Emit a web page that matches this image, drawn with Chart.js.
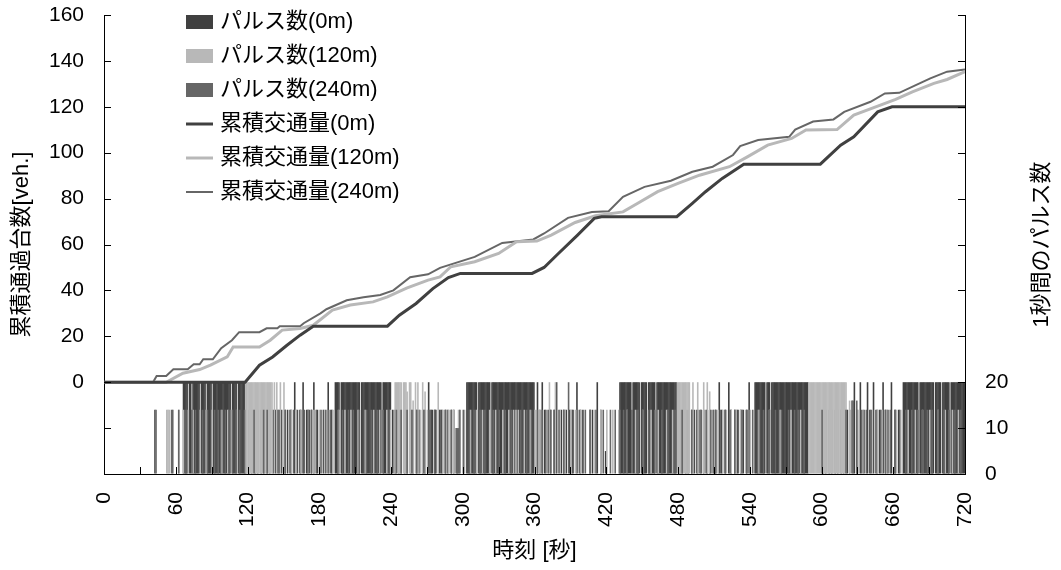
<!DOCTYPE html>
<html lang="ja">
<head>
<meta charset="utf-8">
<title>累積交通量と1秒間のパルス数</title>
<script src="https://cdn.jsdelivr.net/npm/chart.js@4.4.1/dist/chart.umd.min.js"></script>
<style>
  html, body { margin: 0; padding: 0; background: #fff; }
  #wrap { width: 1061px; height: 570px; }
</style>
</head>
<body>
<div id="wrap"><canvas id="chart" width="1061" height="570"></canvas></div>
<script>
// time axis [s]
const timeMin = 0;
const timeMax = 720;
const timeLabelStep = 60;

// pulses per second: runs are [startSec, endSec, pulses], hits are single seconds at pulseHit
const pulseHit = 14;

const pulse0mRuns = [
  [66, 70, 20], [71, 73, 20], [74, 80, 20], [81, 85, 20], [86, 90, 20], [91, 106, 20], [107, 111, 20], [112, 119, 20],
  [159, 160, 20], [166, 167, 20], [175, 176, 20], [187, 188, 20],
  [193, 197, 20], [198, 214, 20], [215, 232, 20], [233, 240, 20],
  [271, 272, 20], [273, 275, 14], [276, 278, 14], [295, 296, 5],
  [303, 312, 20], [313, 323, 20], [324, 360, 20],
  [362, 363, 20], [366, 367, 20], [378, 379, 20], [395, 396, 20], [412, 413, 20], [419, 420, 5],
  [431, 441, 20], [442, 448, 20], [449, 454, 20], [455, 461, 20], [462, 479, 20],
  [514, 515, 20], [522, 523, 20], [539, 540, 20],
  [544, 553, 20], [554, 557, 20], [558, 589, 20],
  [627, 628, 20], [632, 633, 20], [638, 639, 20], [643, 644, 20], [651, 652, 20], [658, 659, 20],
  [668, 681, 20], [682, 694, 20], [695, 700, 20], [701, 707, 20], [708, 720, 20]
];
const pulse0mHits = [
  121, 123, 126, 128, 131, 133, 136, 138, 141, 143, 146, 148, 151, 153, 156, 161, 164, 169, 171, 173, 178, 183, 190,
  241, 243, 246, 248, 251, 253, 256, 258, 261, 263, 266, 268, 280, 282, 285, 287, 290, 292, 297,
  364, 368, 371, 373, 376, 382, 384, 386, 389, 391, 398, 400, 406, 408, 415,
  481, 483, 486, 488, 491, 493, 496, 498, 501, 504, 506, 509, 511, 516, 519, 524, 527, 529, 532, 534, 537,
  601, 603, 606, 608, 611, 613, 616, 618, 621, 623, 629, 635, 640, 646, 648, 653, 655, 661, 664
];

const pulse120mRuns = [
  [52, 55, 14],
  [118, 141, 20], [142, 143, 20], [144, 145, 20], [147, 148, 20], [150, 151, 20],
  [243, 249, 20], [250, 253, 20], [253, 254, 18], [255, 257, 20], [258, 259, 16], [260, 261, 20], [262, 263, 20],
  [266, 267, 20], [268, 269, 18], [279, 280, 20],
  [372, 373, 20], [377, 378, 20],
  [479, 490, 20], [492, 493, 20], [496, 497, 20], [501, 502, 20], [504, 505, 20], [506, 507, 18],
  [589, 621, 20], [623, 624, 16]
];
const pulse120mHits = [
  62, 66, 70, 74, 80, 85, 90, 98, 103, 106, 111,
  156, 160, 164, 170, 175, 180, 184, 188, 191, 196, 201, 206, 212, 218, 225, 230, 236, 239,
  264, 270, 283, 286, 288, 292, 296,
  301, 306, 311, 316, 322, 327, 333, 338, 342, 344, 346, 351, 356, 360, 364,
  381, 385, 390, 394, 398, 406, 410, 415, 420, 425, 430, 437, 444, 450, 457, 463, 470, 475,
  499, 510, 513, 517, 520, 524, 528, 532, 536, 540, 547, 556, 565, 574, 582,
  626, 630, 634, 642, 646, 650, 654, 662, 667, 672, 678, 684, 690, 697, 703, 709, 714
];

const pulse240mRuns = [
  [42, 44, 14], [56, 58, 14], [294, 297, 10], [388, 389, 20], [625, 627, 16], [629, 630, 16]
];
const pulse240mHits = [
  62, 68, 73, 76, 82, 86, 92, 95, 97, 101, 104, 107, 110, 113, 117, 125, 133, 136,
  145, 151, 155, 158, 163, 167, 170, 173, 177, 181, 185, 189, 195, 199, 204, 208, 213, 219, 223, 228, 233, 238,
  244, 248, 253, 257, 261, 267, 272, 276, 281, 285, 290,
  300, 305, 309, 314, 318, 325, 330, 335, 340, 348, 353, 357,
  362, 366, 369, 373, 376, 380, 384, 392, 397, 402, 406, 411, 417,
  423, 427, 431, 434, 437, 441, 446, 450, 455, 460, 466, 471, 477,
  483, 491, 495, 499, 503, 507, 511, 515, 519, 523, 527, 530, 533, 537,
  542, 546, 551, 556, 561, 566, 572, 577, 580, 585, 600, 620,
  633, 637, 641, 645, 649, 653, 657, 661, 665, 670, 675, 680, 684, 688, 692, 697, 702, 706, 711, 716
];

// cumulative vehicles [veh.] as [time, count] points
const cum0m = [
  [0, 0], [118, 0], [130, 7.4], [141, 11], [153, 16.1], [164, 20.5], [175, 24.4], [237, 24.4],
  [247, 29.2], [261, 34.3], [275, 40.8], [288, 45.6], [298, 47.4], [358, 47.4], [368, 50],
  [380, 56.1], [396, 64.1], [410, 71.4], [416, 72.1], [479, 72.1], [492, 77.9], [503, 83],
  [517, 88.8], [535, 95], [599, 95], [616, 103.3], [627, 106.9], [647, 117.8], [659, 120], [720, 120]
];
const cum120m = [
  [0, 0], [52, 0], [66, 3.9], [80, 5.5], [89, 7.4], [103, 11], [108, 15.3], [130, 15.3],
  [139, 18.3], [149, 22.7], [164, 23.4], [175, 24.8], [191, 31.4], [206, 33.6], [225, 35],
  [237, 37.2], [253, 41], [271, 44.5], [281, 45.9], [290, 50.3], [310, 52.5], [330, 56.1],
  [345, 61.2], [362, 61.5], [374, 64.1], [394, 69.6], [411, 72.5], [434, 74.2], [446, 77.9],
  [463, 83], [480, 86.6], [498, 90.2], [523, 93.9], [538, 98.2], [555, 103.3], [575, 106.2],
  [587, 109.9], [613, 110.1], [627, 116.4], [647, 120.3], [662, 123.2], [676, 126.5],
  [694, 130.2], [705, 131.9], [720, 135.3]
];
const cum240m = [
  [0, 0], [41, 0], [44, 2.7], [52, 2.7], [58, 5.6], [70, 5.6], [75, 7.8], [80, 7.8], [83, 10],
  [91, 10], [98, 14.8], [107, 18.3], [113, 21.8], [130, 21.8], [136, 23.5], [145, 23.5],
  [147, 24.4], [164, 24.4], [167, 25.7], [181, 30], [186, 31.8], [203, 35.7], [217, 37],
  [231, 38], [242, 40], [256, 45.7], [271, 47], [281, 49.8], [310, 54.6], [333, 60.7],
  [359, 62.2], [368, 64.8], [388, 71.6], [408, 74.2], [422, 74.5], [434, 80.8], [452, 85.1],
  [474, 87.8], [492, 91.7], [509, 93.9], [526, 99], [532, 102.9], [547, 105.5], [573, 106.9],
  [578, 110.1], [593, 113.6], [610, 114.5], [619, 117.8], [641, 122.2], [653, 125.8],
  [665, 126.1], [682, 130.2], [691, 132.4], [705, 135.3], [720, 136.3]
];

const colDark = "#404040";
const colLight = "#b8b8b8";
const colMid = "#666666";
const FONT = '"Liberation Sans", "Noto Sans CJK JP", sans-serif';

Chart.defaults.font.family = FONT;
Chart.defaults.color = "#000";

function toBars(runs, hits) {
  const pts = [];
  runs.forEach(([a, b, v]) => {
    for (let s = a; s < b; s++) pts.push({ x: s + 0.5, y: v });
  });
  hits.forEach(s => pts.push({ x: s + 0.5, y: pulseHit }));
  return pts.sort((p, q) => p.x - q.x);
}

const toXY = pairs => pairs.map(([x, y]) => ({ x, y }));

const barBase = {
  type: "bar", yAxisID: "y2", grouped: false,
  barThickness: 1.6, inflateAmount: 0, borderWidth: 0
};
const lineBase = {
  type: "line", yAxisID: "y", pointRadius: 0, tension: 0, fill: false
};

const axisLine = { display: true, color: "#000", width: 1 };
const noGrid = { display: true, drawOnChartArea: false, drawTicks: false };

// fixed box sizes so the plot area sits where the original one does
function fixVertical(width) {
  return s => { s.width = width; s.paddingTop = 0; s.paddingBottom = 0; };
}

// short tick marks pointing into the plot, axis titles and the legend box
const decor = {
  id: "decor",
  afterDraw(chart) {
    const { ctx, chartArea: a, scales } = chart;
    ctx.save();
    ctx.strokeStyle = "#000";
    ctx.lineWidth = 1;
    ctx.beginPath();
    scales.x.ticks.forEach(t => {
      const px = Math.round(scales.x.getPixelForValue(t.value)) + 0.5;
      ctx.moveTo(px, a.bottom); ctx.lineTo(px, a.bottom - 7);
    });
    scales.y.ticks.forEach(t => {
      const py = Math.round(scales.y.getPixelForValue(t.value)) + 0.5;
      ctx.moveTo(a.left, py); ctx.lineTo(a.left + 7, py);
    });
    scales.y2.ticks.forEach(t => {
      const py = Math.round(scales.y2.getPixelForValue(t.value)) + 0.5;
      ctx.moveTo(a.right, py); ctx.lineTo(a.right - 7, py);
    });
    ctx.stroke();

    ctx.fillStyle = "#000";
    ctx.font = "22px " + FONT;
    ctx.textAlign = "center";
    ctx.textBaseline = "middle";
    const midY = (a.top + a.bottom) / 2;
    ctx.fillText("時刻 [秒]", (a.left + a.right) / 2, 551);
    [["累積通過台数[veh.]", 22], ["1秒間のパルス数", 1042]].forEach(([txt, x]) => {
      ctx.save();
      ctx.translate(x, midY);
      ctx.rotate(-Math.PI / 2);
      ctx.fillText(txt, 0, 0);
      ctx.restore();
    });

    // legend
    ctx.textAlign = "left";
    chart.data.datasets.forEach((ds, i) => {
      const cy = 22 + i * 34;
      if (ds.type === "bar") {
        ctx.fillStyle = ds.backgroundColor;
        ctx.fillRect(186, cy - 7, 27, 14);
      } else {
        ctx.strokeStyle = ds.borderColor;
        ctx.lineWidth = ds.borderWidth;
        ctx.beginPath();
        ctx.moveTo(186, cy); ctx.lineTo(213, cy);
        ctx.stroke();
      }
      ctx.fillStyle = "#000";
      ctx.fillText(ds.label, 220, cy);
    });
    ctx.restore();
  }
};

new Chart(document.getElementById("chart"), {
  type: "bar",
  data: {
    datasets: [
      { ...barBase, label: "パルス数(0m)", data: toBars(pulse0mRuns, pulse0mHits), backgroundColor: colDark, order: 12 },
      { ...barBase, label: "パルス数(120m)", data: toBars(pulse120mRuns, pulse120mHits), backgroundColor: colLight, order: 11 },
      { ...barBase, label: "パルス数(240m)", data: toBars(pulse240mRuns, pulse240mHits), backgroundColor: colMid, order: 10 },
      { ...lineBase, label: "累積交通量(0m)", data: toXY(cum0m), borderColor: colDark, borderWidth: 3, order: 0 },
      { ...lineBase, label: "累積交通量(120m)", data: toXY(cum120m), borderColor: colLight, borderWidth: 3, order: 1 },
      { ...lineBase, label: "累積交通量(240m)", data: toXY(cum240m), borderColor: colMid, borderWidth: 2, order: 2 }
    ]
  },
  options: {
    responsive: false,
    animation: false,
    events: [],
    layout: { padding: { top: 15, left: 0, right: 0, bottom: 0 } },
    plugins: { legend: { display: false }, tooltip: { enabled: false } },
    scales: {
      x: {
        type: "linear", min: timeMin, max: timeMax, offset: false,
        grid: noGrid, border: axisLine,
        ticks: {
          stepSize: 30, autoSkip: false, minRotation: 90, maxRotation: 90, padding: 18,
          font: { size: 21 },
          callback: v => (v % timeLabelStep === 0 ? v : "")
        },
        afterFit: s => { s.height = 96; s.paddingLeft = 0; s.paddingRight = 0; }
      },
      y: {
        position: "left", min: -40, max: 160,
        grid: noGrid, border: axisLine,
        ticks: { stepSize: 20, padding: 20, font: { size: 21 }, callback: v => (v >= 0 ? v : "") },
        afterFit: fixVertical(104)
      },
      y2: {
        position: "right", min: 0, max: 100,
        grid: noGrid, border: axisLine,
        ticks: { stepSize: 10, padding: 20, font: { size: 21 }, callback: v => (v <= 20 ? v : "") },
        afterFit: fixVertical(96)
      }
    }
  },
  plugins: [decor]
});
</script>
</body>
</html>
